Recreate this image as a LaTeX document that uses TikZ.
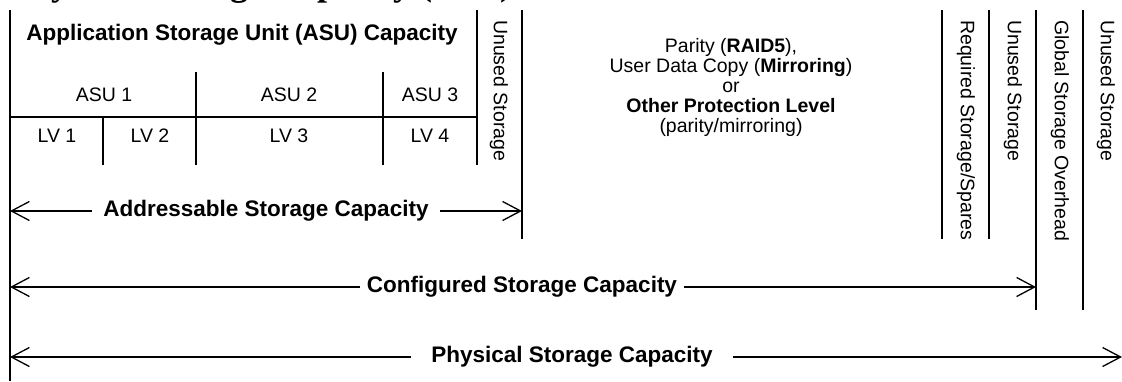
\documentclass[tikz,border=0pt]{standalone}
\usepackage{fontspec}
\setmainfont{Liberation Sans}
\newfontfamily\headserif{Liberation Serif}
\usetikzlibrary{arrows.meta}

\begin{document}
\begin{tikzpicture}[x=1pt,y=-1pt,
  lbl/.style={font=\fontsize{19.5}{20}\selectfont, inner sep=0pt},
  blbl/.style={font=\fontsize{22.5}{26}\selectfont\bfseries, inner sep=0pt},
  vlbl/.style={lbl, rotate=-90, anchor=west},
  thinrule/.style={line width=1.2pt},
  midrule/.style={line width=1.6pt},
  thickrule/.style={line width=2.2pt},
  barb/.tip={Straight Barb[length=18pt,width=19pt,line width=1.3pt]},
  span/.style={line width=1.4pt, barb-barb},
  gap/.style={blbl, fill=white, inner ysep=3pt}
]
\useasboundingbox (0,0) rectangle (1122,381);

% heading, mostly above the page
\node[anchor=base west, inner sep=0pt,
      font=\headserif\fontsize{36}{40}\selectfont\bfseries] (head) at (9,-5)
      {Physical Storage Capacity (PSC)};

% frame lines
\coordinate (a0t) at (10,10);   \coordinate (a0b) at (10,381);
\coordinate (a1t) at (477,10);  \coordinate (a1b) at (477,165);
\coordinate (a2t) at (522,10);  \coordinate (a2b) at (522,239);
\coordinate (r1t) at (942,10);  \coordinate (r1b) at (942,239);
\coordinate (r2t) at (989,10);  \coordinate (r2b) at (989,239);
\coordinate (r3t) at (1036,10); \coordinate (r3b) at (1036,310);
\coordinate (r4t) at (1083,10); \coordinate (r4b) at (1083,310);

\draw[thickrule] (a0t) -- (a0b);
\draw[thinrule]  (a1t) -- (a1b);
\draw[thickrule] (a2t) -- (a2b);
\draw[thinrule]  (r1t) -- (r1b);
\draw[thinrule]  (r2t) -- (r2b);
\draw[thickrule] (r3t) -- (r3b);
\draw[thinrule]  (r4t) -- (r4b);

% ASU / LV grid
\coordinate (h0) at (10,117);   \coordinate (h1) at (477,117);
\coordinate (d1t) at (196,72);  \coordinate (d1b) at (196,165);
\coordinate (d2t) at (383,72);  \coordinate (d2b) at (383,165);
\coordinate (d3t) at (103,117); \coordinate (d3b) at (103,165);
\draw[midrule] (h0) -- (h1);
\draw[midrule] (d1t) -- (d1b);
\draw[midrule] (d2t) -- (d2b);
\draw[midrule] (d3t) -- (d3b);

\node[blbl] (asucap) at (242,35) {Application Storage Unit (ASU) Capacity};
\node[lbl] (asu1) at (104,95) {ASU 1};
\node[lbl] (asu2) at (289,95) {ASU 2};
\node[lbl] (asu3) at (430,95) {ASU 3};
\node[lbl] (lv1) at (57,136) {LV 1};
\node[lbl] (lv2) at (150,136) {LV 2};
\node[lbl] (lv3) at (289,136) {LV 3};
\node[lbl] (lv4) at (430,136) {LV 4};

% vertical captions
\node[vlbl] (unused1) at (499,20) {Unused Storage};
\node[vlbl] (spares)  at (966,20) {Required Storage/Spares};
\node[vlbl] (unused2) at (1013,20) {Unused Storage};
\node[vlbl] (global)  at (1060,20) {Global Storage Overhead};
\node[vlbl] (unused3) at (1106,20) {Unused Storage};

% protection text
\node[lbl, align=center] (prot) at (731,87)
  {Parity (\textbf{RAID5}),\\User Data Copy (\textbf{Mirroring})\\or\\
   \textbf{Other Protection Level}\\(parity/mirroring)};

% capacity spans
\coordinate (asL) at (10,211);  \coordinate (asR) at (522,211);
\coordinate (csL) at (10,287);  \coordinate (csR) at (1036,287);
\coordinate (psL) at (10,357);  \coordinate (psR) at (1122,357);
\draw[span] (asL) -- (asR);
\draw[span] (csL) -- (csR);
\draw[span] (psL) -- (psR);
\node[gap, inner xsep=11pt] (asc) at (266,211) {Addressable Storage Capacity};
\node[gap, inner xsep=7pt]  (csc) at (522,287) {Configured Storage Capacity};
\node[gap, inner xsep=20pt] (psc) at (572,357) {Physical Storage Capacity};
\end{tikzpicture}
\end{document}
